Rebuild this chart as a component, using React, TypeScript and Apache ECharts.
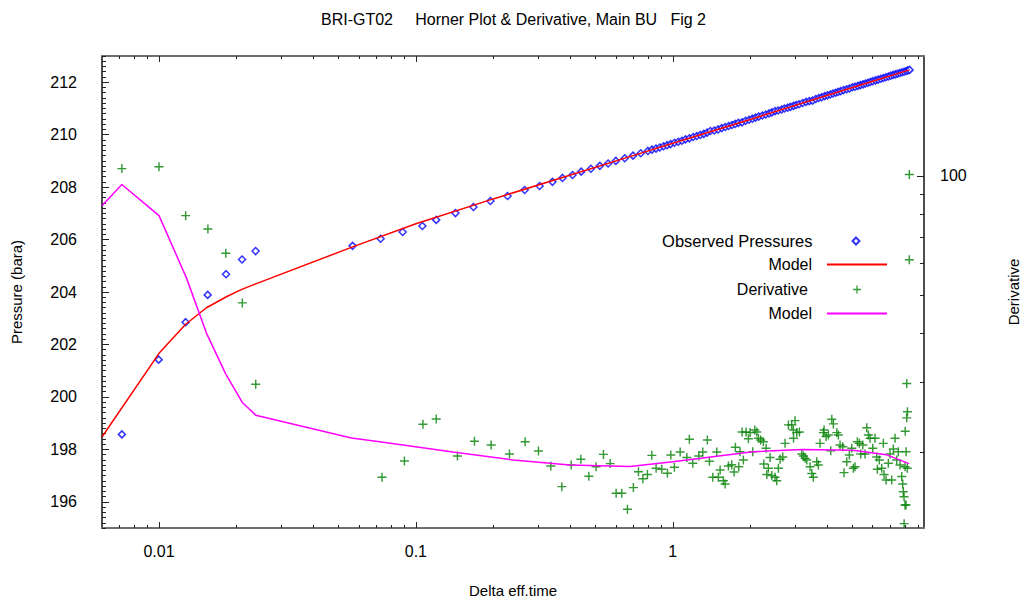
import React, { useEffect, useRef } from 'react';
import * as echarts from 'echarts';

const titleText = 'BRI-GT02\u00a0\u00a0\u00a0\u00a0\u00a0Horner Plot & Derivative, Main BU\u00a0\u00a0\u00a0Fig 2';
const xName = 'Delta eff.time';
const yLeftName = 'Pressure (bara)';
const yRightName = 'Derivative';

// Observed pressures (bara) vs delta effective time
const obsTime = [
  0.00717, 0.00997, 0.0127, 0.01547, 0.01824, 0.02105, 0.02377, 0.0567, 0.0729, 0.0888,
  0.106, 0.12, 0.1425, 0.1675, 0.195, 0.2274, 0.265, 0.303, 0.34, 0.372,
  0.407, 0.44, 0.48, 0.52, 0.56, 0.6, 0.65, 0.7, 0.75, 0.8,
  0.83, 0.86, 0.89, 0.92, 0.95, 0.98, 1.015, 1.05, 1.085, 1.12,
  1.16, 1.2, 1.24, 1.28, 1.32, 1.36, 1.4, 1.45, 1.5, 1.55,
  1.6, 1.65, 1.7, 1.75, 1.8, 1.86, 1.92, 1.98, 2.04, 2.1,
  2.16, 2.23, 2.3, 2.37, 2.43, 2.5, 2.57, 2.65, 2.72, 2.8,
  2.87, 2.95, 3.02, 3.1, 3.2, 3.3, 3.4, 3.5, 3.6, 3.7,
  3.8, 3.9, 4.0, 4.1, 4.2, 4.3, 4.4, 4.5, 4.62, 4.75,
  4.87, 5.0, 5.12, 5.25, 5.37, 5.5, 5.62, 5.75, 5.87, 6.0,
  6.15, 6.3, 6.45, 6.6, 6.75, 6.9, 7.05, 7.2, 7.35, 7.5,
  7.65, 7.8, 7.95, 8.1, 8.22, 8.35,
];
const obsPressure = [
  198.57, 201.42, 202.85, 203.89, 204.68, 205.24, 205.56, 205.76, 206.03, 206.29,
  206.52, 206.75, 207.01, 207.24, 207.47, 207.66, 207.89, 208.04, 208.2, 208.35,
  208.46, 208.59, 208.7, 208.81, 208.9, 209.0, 209.1, 209.2, 209.29, 209.38,
  209.43, 209.47, 209.51, 209.56, 209.6, 209.64, 209.69, 209.73, 209.77, 209.82,
  209.86, 209.91, 209.95, 209.99, 210.03, 210.08, 210.14, 210.16, 210.2, 210.25,
  210.29, 210.33, 210.37, 210.41, 210.45, 210.47, 210.53, 210.57, 210.61, 210.65,
  210.69, 210.73, 210.77, 210.81, 210.85, 210.9, 210.92, 210.96, 211.0, 211.03,
  211.06, 211.1, 211.13, 211.16, 211.21, 211.25, 211.28, 211.3, 211.36, 211.4,
  211.43, 211.47, 211.5, 211.53, 211.57, 211.6, 211.63, 211.66, 211.7, 211.73,
  211.76, 211.81, 211.83, 211.86, 211.89, 211.92, 211.95, 211.98, 212.01, 212.04,
  212.07, 212.1, 212.13, 212.16, 212.19, 212.22, 212.25, 212.28, 212.3, 212.33,
  212.35, 212.38, 212.4, 212.43, 212.45, 212.47,
];

// Model pressure
const modelTime = [0.006, 0.01, 0.0127, 0.0153, 0.0183, 0.021, 0.0238, 0.0567, 0.1, 0.2, 0.4, 0.7, 1, 2, 4, 6, 8.35];
const modelPressure = [198.47, 201.66, 202.77, 203.4, 203.82, 204.1, 204.31, 205.72, 206.6, 207.55, 208.46, 209.2, 209.67, 210.58, 211.5, 212.04, 212.47];

// Derivative points
const derivTime = [
  0.00717, 0.01, 0.0127, 0.0155, 0.0182, 0.0211, 0.0238, 0.0738, 0.0902, 0.1065,
  0.12, 0.1451, 0.169, 0.1963, 0.2313, 0.2662, 0.2999, 0.3351, 0.3699, 0.402,
  0.4385, 0.4711, 0.5028, 0.537, 0.5702, 0.6017, 0.6331, 0.6658, 0.7024, 0.7348,
  0.7645, 0.7966, 0.8286, 0.8609, 0.9061, 0.9528, 0.9822, 1.0144, 1.068, 1.134,
  1.16, 1.196, 1.262, 1.308, 1.363, 1.388, 1.431, 1.483, 1.504, 1.528,
  1.573, 1.598, 1.646, 1.696, 1.732, 1.752, 1.806, 1.827, 1.86, 1.882,
  1.929, 1.969, 1.999, 2.048, 2.085, 2.122, 2.153, 2.199, 2.251, 2.26,
  2.307, 2.322, 2.355, 2.391, 2.428, 2.5, 2.539, 2.576, 2.615, 2.679,
  2.735, 2.818, 2.904, 2.946, 2.95, 2.991, 3.037, 3.109, 3.177, 3.223,
  3.272, 3.322, 3.421, 3.474, 3.524, 3.633, 3.686, 3.742, 3.855, 3.879,
  3.95, 4.032, 4.12, 4.157, 4.217, 4.347, 4.41, 4.477, 4.587, 4.64,
  4.753, 4.866, 4.971, 5.043, 5.12, 5.228, 5.322, 5.389, 5.487, 5.601,
  5.687, 5.77, 5.857, 6.001, 6.127, 6.221, 6.254, 6.367, 6.505, 6.599,
  6.64, 6.761, 6.901, 7.006, 7.113, 7.217, 7.328, 7.44, 7.547, 7.663,
  7.78, 7.85, 7.893, 7.943, 7.95, 8.015, 8.02, 8.03, 8.087, 8.09,
  8.137, 8.14, 8.181, 8.19, 8.329, 8.33,
];
const derivValue = [
  104.3, 105.4, 79.3, 73.4, 63.7, 47.7, 29.7, 17.27, 18.99, 23.52,
  24.26, 19.55, 21.3, 20.84, 19.77, 21.25, 20.12, 18.44, 16.35, 18.56,
  19.18, 17.37, 18.37, 19.73, 18.7, 15.73, 15.73, 14.33, 16.26, 17.84,
  17.12, 17.55, 19.62, 18.2, 18.09, 17.67, 19.66, 18.3, 20.0, 19.38,
  21.55, 18.74, 19.55, 20.0, 21.46, 18.95, 17.27, 20.0, 17.27, 18.02,
  16.93, 16.61, 18.44, 18.58, 17.81, 20.56, 18.37, 20.04, 22.47, 19.1,
  22.47, 21.62, 22.4, 20.04, 22.74, 22.47, 21.67, 21.46, 21.25, 18.65,
  20.44, 17.55, 18.2, 19.38, 17.44, 17.27, 16.93, 18.2, 19.18, 19.44,
  21.04, 23.43, 23.43, 22.74, 21.67, 24.02, 22.4, 22.47, 19.77, 19.55,
  19.28, 19.1, 18.37, 17.66, 17.27, 18.9, 18.55, 21.04, 22.4, 22.74,
  21.89, 22.1, 20.16, 24.22, 23.57, 22.4, 22.1, 20.84, 20.64, 17.74,
  18.9, 19.66, 20.44, 18.2, 18.37, 21.25, 21.04, 19.77, 20.84, 19.77,
  23.05, 22.1, 21.67, 20.44, 21.67, 19.44, 18.09, 19.1, 18.2, 21.04,
  17.55, 17.0, 18.74, 19.77, 17.0, 20.36, 21.67, 19.1, 20.04, 18.55,
  17.34, 16.61, 15.88, 15.42, 13.18, 14.69, 18.37, 22.58, 14.69, 20.04,
  24.41, 29.81, 18.2, 25.29, 100.8, 61.3,
];

// Model derivative
const derivModelTime = [0.006, 0.00717, 0.01, 0.0128, 0.0153, 0.0182, 0.0211, 0.0238, 0.0561, 0.0722, 0.1393, 0.2389, 0.397, 0.682, 1.0, 2.05, 3.21, 5.02, 6.77, 8.3];
const derivModelValue = [84.0, 95.1, 79.3, 55.1, 40.0, 31.5, 26.7, 24.8, 21.7, 21.25, 20.0, 19.1, 18.55, 18.4, 18.9, 20.05, 20.3, 20.2, 19.7, 18.7];

// Axis ticks
const xTickValues = [0.01, 0.1, 1];
const xTickLabels = ['0.01', '0.1', '1'];
const xMinorTicks = [0.007, 0.008, 0.009, 0.02, 0.03, 0.04, 0.05, 0.06, 0.07, 0.08, 0.09, 0.2, 0.3, 0.4, 0.5, 0.6, 0.7, 0.8, 0.9, 2, 3, 4, 5, 6, 7, 8, 9];
const yLeftTicks = [196, 198, 200, 202, 204, 206, 208, 210, 212];
const yRightTicks = [100];
const yRightTickLabels = ['100'];
const yRightMinorTicks = [20, 30, 40, 50, 60, 70, 80, 90];

const X_MIN = 0.006;
const X_MAX = 9.5;
const Y_MIN = 195;
const Y_MAX = 213;
const R_MIN = 12.85;
const R_MAX = 201;

const FONT = 'Liberation Sans, Arial, sans-serif';

function zip(a: number[], b: number[]) {
  return a.map((v, i) => [v, b[i]]);
}

export default function App() {
  const ref = useRef<HTMLDivElement>(null);
  useEffect(() => {
    if (!ref.current) return;
    const chart = echarts.init(ref.current, null, { renderer: 'svg' });

    const yMinor: number[] = [];
    for (let k = 0; k <= 90; k++) yMinor.push(+(Y_MIN + k * 0.2).toFixed(1));

    const xAxisLine = { show: true, onZero: false, lineStyle: { color: '#707070', width: 2 } };
    const yAxisLine = { show: true, onZero: false, lineStyle: { color: '#111', width: 1.5 } };
    const tickStyle = { color: '#222', width: 1 };

    const plus = 'path://M4.2,0H5.8V4.2H10V5.8H5.8V10H4.2V5.8H0V4.2H4.2Z';

    const legendBase = {
      orient: 'vertical',
      selectedMode: false,
      itemGap: 0,
      textStyle: { fontSize: 16, color: '#000', fontFamily: FONT },
      align: 'right',
    };

    chart.setOption({
      animation: false,
      backgroundColor: '#fff',
      title: {
        text: titleText,
        left: 316,
        top: 6,
        textStyle: { fontSize: 16, fontWeight: 'normal', color: '#000', fontFamily: FONT },
      },
      grid: { left: 102, right: 100, top: 56, bottom: 73, outerBoundsMode: 'none' },
      legend: [
        { ...legendBase, data: ['Observed Pressures'], right: 158.5, top: 227.5, itemWidth: 7, itemHeight: 7,
          textStyle: { ...legendBase.textStyle, fontSize: 16.5, padding: [0, 35, 0, 0] } },
        { ...legendBase, data: ['Model'], right: 131, top: 251.5, itemWidth: 60, itemHeight: 14,
          itemStyle: { opacity: 0 },
          textStyle: { ...legendBase.textStyle, padding: [0, 10, 0, 0] } },
        { ...legendBase, data: ['Derivative'], right: 158, top: 276.5, itemWidth: 8, itemHeight: 8,
          textStyle: { ...legendBase.textStyle, padding: [0, 40, 0, 0] } },
        { ...legendBase, data: ['Model (derivative)'], right: 131, top: 300.5, itemWidth: 60, itemHeight: 14,
          itemStyle: { opacity: 0 },
          formatter: 'Model',
          textStyle: { ...legendBase.textStyle, padding: [0, 10, 0, 0] } },
      ],
      xAxis: [
        {
          type: 'log', position: 'bottom', min: X_MIN, max: X_MAX,
          axisLine: xAxisLine,
          axisTick: { show: true, inside: true, length: 6, customValues: xTickValues, lineStyle: tickStyle },
          axisLabel: {
            customValues: xTickValues, margin: 15, fontSize: 16, color: '#000', fontFamily: FONT,
            formatter: (v: number) => {
              const i = xTickValues.findIndex((t) => Math.abs(t - v) / t < 1e-6);
              return i >= 0 ? xTickLabels[i] : '';
            },
          },
          splitLine: { show: false },
          name: xName, nameLocation: 'middle', nameGap: 55,
          nameTextStyle: { fontSize: 15, color: '#000', fontFamily: FONT },
        },
        {
          type: 'log', position: 'bottom', min: X_MIN, max: X_MAX,
          axisLine: { show: false },
          axisTick: { show: true, inside: true, length: 3, customValues: xMinorTicks, lineStyle: tickStyle },
          axisLabel: { show: false },
          splitLine: { show: false },
        },
        {
          type: 'log', position: 'top', min: X_MIN, max: X_MAX,
          axisLine: xAxisLine,
          axisTick: { show: true, inside: true, length: 6, customValues: xTickValues, lineStyle: tickStyle },
          axisLabel: { show: false },
          splitLine: { show: false },
        },
        {
          type: 'log', position: 'top', min: X_MIN, max: X_MAX,
          axisLine: { show: false },
          axisTick: { show: true, inside: true, length: 3, customValues: xMinorTicks, lineStyle: tickStyle },
          axisLabel: { show: false },
          splitLine: { show: false },
        },
      ],
      yAxis: [
        {
          type: 'value', position: 'left', min: Y_MIN, max: Y_MAX,
          axisLine: yAxisLine,
          axisTick: { show: true, inside: true, length: 7, customValues: yLeftTicks, lineStyle: tickStyle },
          axisLabel: { customValues: yLeftTicks, margin: 25, fontSize: 16, color: '#000', fontFamily: FONT },
          splitLine: { show: false },
          name: yLeftName, nameLocation: 'middle', nameGap: 78, nameRotate: 90,
          nameTextStyle: { fontSize: 15, color: '#000', fontFamily: FONT },
        },
        {
          type: 'value', position: 'left', min: Y_MIN, max: Y_MAX,
          axisLine: { show: false },
          axisTick: { show: true, inside: true, length: 4, customValues: yMinor, lineStyle: tickStyle },
          axisLabel: { show: false },
          splitLine: { show: false },
        },
        {
          type: 'log', position: 'right', min: R_MIN, max: R_MAX,
          axisLine: yAxisLine,
          axisTick: { show: true, inside: true, length: 7, customValues: yRightTicks, lineStyle: tickStyle },
          axisLabel: {
            customValues: yRightTicks, margin: 16, fontSize: 16, color: '#000', fontFamily: FONT,
            formatter: (v: number) => {
              const i = yRightTicks.findIndex((t) => Math.abs(t - v) / t < 1e-6);
              return i >= 0 ? yRightTickLabels[i] : '';
            },
          },
          splitLine: { show: false },
          name: yRightName, nameLocation: 'middle', nameGap: 82, nameRotate: 90,
          nameTextStyle: { fontSize: 15, color: '#000', fontFamily: FONT },
        },
        {
          type: 'log', position: 'right', min: R_MIN, max: R_MAX,
          axisLine: { show: false },
          axisTick: { show: true, inside: true, length: 4, customValues: yRightMinorTicks, lineStyle: tickStyle },
          axisLabel: { show: false },
          splitLine: { show: false },
        },
      ],
      series: [
        {
          name: 'Observed Pressures', type: 'scatter', xAxisIndex: 0, yAxisIndex: 0,
          data: zip(obsTime, obsPressure),
          symbol: 'diamond', symbolSize: 7,
          itemStyle: { color: '#ffffff', borderColor: '#0000ff', borderWidth: 1.5 },
          z: 2,
        },
        {
          name: 'Model', type: 'line', xAxisIndex: 0, yAxisIndex: 0,
          data: zip(modelTime, modelPressure),
          symbol: 'none', showSymbol: false,
          lineStyle: { color: '#ff0000', width: 1.5 },
          itemStyle: { color: '#ff0000' },
          z: 3,
        },
        {
          name: 'Derivative', type: 'scatter', xAxisIndex: 0, yAxisIndex: 2,
          data: zip(derivTime, derivValue),
          symbol: plus, symbolSize: 9,
          itemStyle: { color: '#008000' },
          z: 2,
        },
        {
          name: 'Model (derivative)', type: 'line', xAxisIndex: 0, yAxisIndex: 2,
          data: zip(derivModelTime, derivModelValue),
          symbol: 'none', showSymbol: false,
          lineStyle: { color: '#ff00ff', width: 1.5 },
          itemStyle: { color: '#ff00ff' },
          z: 3,
        },
      ],
    });
    return () => chart.dispose();
  }, []);
  return (
    <div
      ref={ref}
      style={{ position: 'absolute', left: 0, top: 0, width: 1024, height: 601, background: '#fff' }}
    />
  );
}
